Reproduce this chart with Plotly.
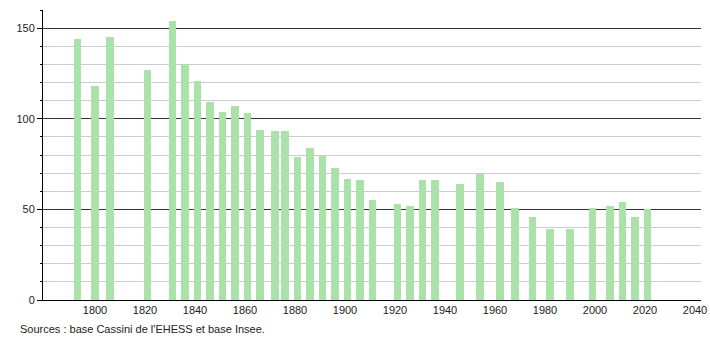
import plotly.graph_objects as go

years = [1793, 1800, 1806, 1821, 1831, 1836, 1841, 1846, 1851, 1856, 1861, 1866,
         1872, 1876, 1881, 1886, 1891, 1896, 1901, 1906, 1911, 1921, 1926, 1931,
         1936, 1946, 1954, 1962, 1968, 1975, 1982, 1990, 1999, 2006, 2011, 2016, 2021]
population = [144, 118, 145, 127, 154, 130, 121, 109, 104, 107, 103, 94,
              93, 93, 79, 84, 80, 73, 67, 66, 55, 53, 52, 66,
              66, 64, 70, 65, 51, 46, 39, 39, 51, 52, 54, 46, 50]
x_ticks = list(range(1800, 2041, 20))
y_ticks = [0, 50, 100, 150]

fig = go.Figure()
fig.add_trace(go.Bar(
    x=years, y=population, width=3.1,
    marker=dict(color="rgb(170,226,170)", line=dict(width=0)),
    hoverinfo="x+y",
))

font = dict(family="Liberation Sans, Arial, sans-serif", size=11, color="#222")

fig.update_layout(
    width=710, height=340,
    margin=dict(l=43, r=9, t=10, b=40, autoexpand=False),
    paper_bgcolor="white", plot_bgcolor="white",
    showlegend=False,
    font=font,
    xaxis=dict(
        range=[1779.2, 2042.4],
        tickvals=x_ticks,
        ticks="", showgrid=False, zeroline=False,
        showline=True, linecolor="black", linewidth=1,
        tickfont=font, automargin=False,
    ),
    yaxis=dict(
        range=[0, 160],
        tickvals=y_ticks,
        ticks="outside", ticklen=5, tickcolor="black",
        showgrid=True, gridcolor="#333333", gridwidth=1,
        zeroline=False,
        showline=True, linecolor="black", linewidth=1,
        tickfont=font, automargin=False,
        minor=dict(dtick=10, showgrid=True, gridcolor="#cccccc",
                   ticks="outside", ticklen=2, tickcolor="black"),
    ),
    bargap=0,
)

fig.add_annotation(
    text="Sources : base Cassini de l'EHESS et base Insee.",
    xref="paper", yref="paper", x=-0.038, y=-0.072,
    xanchor="left", yanchor="top", showarrow=False,
    font=dict(family="Liberation Sans, Arial, sans-serif", size=11, color="#222"),
)

fig.write_html("out.html")
